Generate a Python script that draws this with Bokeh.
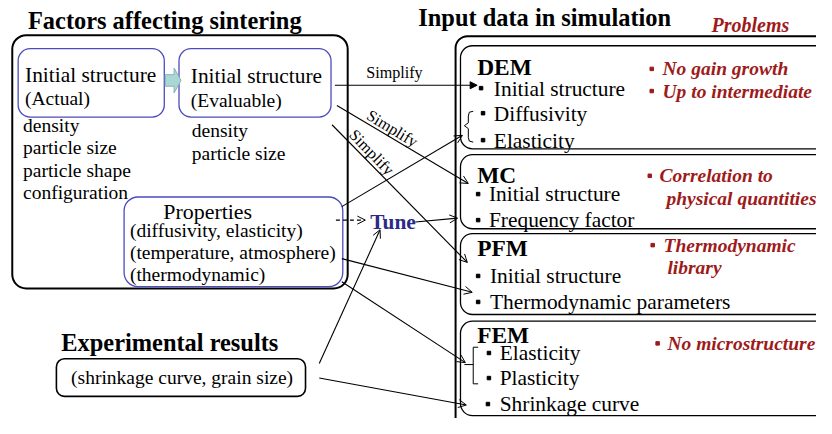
import math
from bokeh.plotting import figure
from bokeh.models import Range1d, Arrow, OpenHead, NormalHead
from bokeh.core.properties import value
from bokeh.embed import file_html
from bokeh.resources import INLINE

# ---------------- content ----------------
left_title = "Factors affecting sintering"
right_title = "Input data in simulation"
problems_title = "Problems"
actual_label = ["Initial structure", "(Actual)"]
evaluable_label = ["Initial structure", "(Evaluable)"]
actual_factors = ["density", "particle size", "particle shape", "configuration"]
evaluable_factors = ["density", "particle size"]
properties_title = "Properties"
properties_items = ["(diffusivity, elasticity)", "(temperature, atmosphere)", "(thermodynamic)"]
exp_title = "Experimental results"
exp_items = "(shrinkage curve, grain size)"
tune_label = "Tune"
link_label = "Simplify"
methods = ["DEM", "MC", "PFM", "FEM"]
method_inputs = [
    ["Initial structure", "Diffusivity", "Elasticity"],
    ["Initial structure", "Frequency factor"],
    ["Initial structure", "Thermodynamic parameters"],
    ["Elasticity", "Plasticity", "Shrinkage curve"],
]
method_problems = [
    ["No gain growth", "Up to intermediate"],
    ["Correlation to", "physical quantities"],
    ["Thermodynamic", "library"],
    ["No microstructure"],
]

# ---------------- canvas ----------------
W, H = 832, 434
p = figure(width=816, height=418, x_range=Range1d(0, W), y_range=Range1d(H, 0),
           output_backend="svg", toolbar_location=None, min_border=0,
           x_axis_location=None, y_axis_location=None)
p.grid.visible = False
p.outline_line_color = None

SERIF = "'Liberation Serif', 'Times New Roman', serif"
K = 0.975
RED = "#9e1b1b"
BLUE = "#4b4bbf"
NAVY = "#2b2b86"
SHIFT = 0.30  # baseline correction (em)


def txt(x, y, s, size, style="normal", color="black", align="left", angle=0.0):
    d = SHIFT * size
    # move "up" in the text's own frame
    x2 = x + d * math.sin(-angle) * -1 if angle else x
    y2 = y - d * math.cos(angle)
    if angle:
        x2 = x - d * math.sin(angle) * -1
        x2 = x + d * math.sin(-angle)
    p.text(x=[x2], y=[y2], text=[s], text_font=value(SERIF),
           text_font_size=value(f"{size*K:.1f}px"), text_font_style=style,
           text_color=color, text_align=align, text_baseline="alphabetic", angle=angle)


def box(l, r, t, b, color="black", lw=1.2, rad=12):
    p.quad(left=[l], right=[r], top=[t], bottom=[b], fill_color=None,
           line_color=color, line_width=lw, border_radius=rad)


def bullet(x, y, color="black"):
    p.scatter(x=[x], y=[y], marker="square", size=3.5, fill_color=color, line_color=color)


def arrow(x0, y0, x1, y1, dash="solid", filled=False):
    head = NormalHead(size=7, fill_color="black", line_color="black", line_width=1) if filled \
        else OpenHead(size=8, line_color="black", line_width=1)
    p.add_layout(Arrow(end=head, x_start=x0, y_start=y0, x_end=x1, y_end=y1,
                       line_color="black", line_width=1.1, line_dash=dash))

# ---------------- left side ----------------
txt(28, 28, left_title, 25, "bold")
box(12, 354, 36, 299, lw=2, rad=14)
box(18, 167, 50, 121, color=BLUE, lw=1.3, rad=12)
box(182, 337, 50, 121, color=BLUE, lw=1.3, rad=12)
txt(25, 84, actual_label[0], 22)
txt(25, 108, actual_label[1], 20)
txt(194, 85, evaluable_label[0], 22)
txt(194, 110, evaluable_label[1], 20)
for i, s in enumerate(actual_factors):
    txt(23, 136 + 23 * i, s, 20)
for i, s in enumerate(evaluable_factors):
    txt(195, 141 + 23.5 * i, s, 20)

# block arrow between the two structure boxes
p.patch(x=[168, 177, 177, 184, 177, 177, 168], y=[77, 77, 70, 83, 96, 89, 89],
        fill_color="#a9d6d6", line_color="#8fb0b0", line_width=1)

box(126, 349, 204, 297, color=BLUE, lw=1.3, rad=14)
txt(166, 226, properties_title, 22.5)
for i, s in enumerate(properties_items):
    txt(132, 245 + 23 * i, s, 20)

txt(62, 363, exp_title, 25, "bold")
box(57, 311, 372, 411, lw=1.6, rad=8)
txt(72, 397, exp_items, 20)

txt(377, 237, tune_label, 22, "bold", color=NAVY)

# ---------------- right side ----------------
txt(426, 25, right_title, 25, "bold")
txt(725, 32, problems_title, 20.5, "bold italic", color=RED)
box(464, 860, 37, 470, lw=2, rad=12)

mbox = [(47, 154), (160, 237), (242, 326), (333, 431)]
for (t, b) in mbox:
    box(469, 845, t, b, lw=1.3, rad=12)

name_y = [76, 188, 264, 355]
for m, y in zip(methods, name_y):
    txt(486, y, m, 24, "bold")

item_x = [503, 498, 499, 509]
bul_x = [[490, 492, 492], [487, 487], [487, 487], [498, 498, 497]]
item_y = [[98, 124, 152], [208, 235], [293, 320], [373, 399, 426]]
for k, items in enumerate(method_inputs):
    for j, s in enumerate(items):
        txt(item_x[k], item_y[k][j], s, 22)
        bullet(bul_x[k][j], item_y[k][j] - 7)

prob_x = [[675, 675], [672, 679], [676, 680], [680]]
prob_y = [[77, 100], [188, 212], [260, 283], [362]]
prob_b = [[664, 664], [662, None], [665, None], [670]]
for k, items in enumerate(method_problems):
    for j, s in enumerate(items):
        txt(prob_x[k][j], prob_y[k][j], s, 20, "bold italic", color=RED)
        if prob_b[k][j] is not None:
            bullet(prob_b[k][j], prob_y[k][j] - 6, color=RED)

# brackets
p.line(x=[482, 478, 477, 477, 473, 477, 477, 478, 482],
       y=[115, 116, 120, 127, 130, 133, 142, 146, 147], line_color="black", line_width=1)
p.line(x=[487, 482, 482, 487], y=[360, 360, 398, 398], line_color="black", line_width=1)
p.line(x=[473, 482], y=[378, 378], line_color="black", line_width=1)

# ---------------- links ----------------
arrow(341, 88, 486, 88, filled=True)
txt(373, 80, link_label, 16.5)
arrow(343, 109, 477, 190)
txt(397, 137, link_label, 16.5, align="center", angle=-0.544)
arrow(338, 129, 476, 272)
txt(375, 161, link_label, 16.5, align="center", angle=-0.80)
arrow(348, 214, 471, 140)
arrow(342, 228, 372, 228, dash="4 3")
arrow(423, 230, 466, 226)
arrow(348, 268, 481, 303)
arrow(348, 292, 474, 376)
arrow(325, 377, 387, 238)
arrow(325, 392, 475, 420)

open("out.html", "w").write(file_html(p, INLINE))
